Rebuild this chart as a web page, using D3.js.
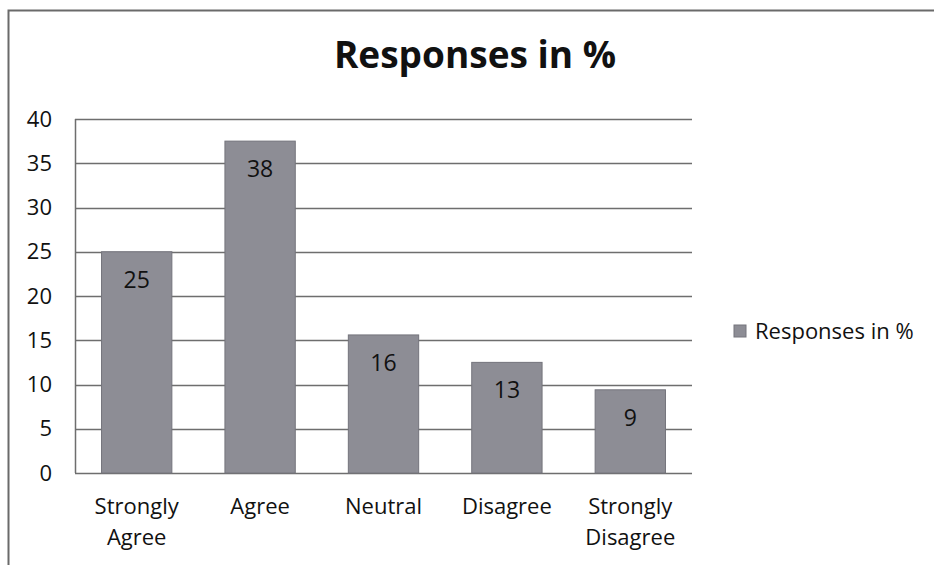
<!DOCTYPE html>
<html>
<head>
<meta charset="utf-8">
<script src="https://cdn.jsdelivr.net/npm/d3@7"></script>
<style>
  html, body { margin: 0; padding: 0; background: #ffffff; }
  svg { display: block; }
  text { font-family: "Open Sans", "Noto Sans", sans-serif; fill: #111; }
</style>
</head>
<body>
<svg id="chart" width="934" height="565"></svg>
<script>
const categories = [["Strongly", "Agree"], ["Agree"], ["Neutral"], ["Disagree"], ["Strongly", "Disagree"]];
const values = [25, 37.5, 15.6, 12.5, 9.4];
const labels = ["25", "38", "16", "13", "9"];
const yTicks = [0, 5, 10, 15, 20, 25, 30, 35, 40];
const title = "Responses in %";
const seriesName = "Responses in %";

const svg = d3.select("#chart");
const W = 934, H = 565;
const plot = { left: 75, right: 692, top: 119, bottom: 473 };
const barColor = "#8d8d95";
const barStroke = "#74747c";
const gridColor = "#6e6e6e";

svg.append("rect").attr("width", W).attr("height", H).attr("fill", "#fff");

// outer border (right & bottom cut off)
svg.append("path")
  .attr("d", `M8.5,${H + 5} L8.5,10.5 L${W + 5},10.5`)
  .attr("fill", "none").attr("stroke", "#6a6a6a").attr("stroke-width", 2);

const keys = categories.map((c, i) => i);
const x = d3.scaleBand().domain(keys).range([plot.left, plot.right])
  .paddingInner(0.43).paddingOuter(0.215);
const y = d3.scaleLinear().domain([0, 40]).range([plot.bottom, plot.top]);

// gridlines
svg.append("g").selectAll("line").data(yTicks).join("line")
  .attr("x1", plot.left).attr("x2", plot.right)
  .attr("y1", d => Math.round(y(d)) + 0.5).attr("y2", d => Math.round(y(d)) + 0.5)
  .attr("stroke", gridColor).attr("stroke-width", 1.5);

// left axis line
svg.append("line")
  .attr("x1", plot.left + 0.5).attr("x2", plot.left + 0.5)
  .attr("y1", plot.top).attr("y2", plot.bottom)
  .attr("stroke", gridColor).attr("stroke-width", 1.5);

// y axis labels
const yAxis = d3.axisLeft(y).tickValues(yTicks).tickSize(0).tickPadding(23);
const gy = svg.append("g").attr("transform", `translate(${plot.left},0)`).call(yAxis);
gy.select(".domain").remove();
gy.selectAll("text").style("font-size", "22px").attr("fill", "#111");

// bars
svg.append("g").selectAll("rect").data(values).join("rect")
  .attr("x", (d, i) => x(i))
  .attr("y", d => y(d))
  .attr("width", x.bandwidth())
  .attr("height", d => y(0) - y(d))
  .attr("fill", barColor)
  .attr("stroke", barStroke).attr("stroke-width", 1);

// data labels
svg.append("g").selectAll("text").data(values).join("text")
  .attr("x", (d, i) => x(i) + x.bandwidth() / 2)
  .attr("y", d => y(d) + 28)
  .attr("dy", "0.35em")
  .attr("text-anchor", "middle")
  .style("font-size", "23px")
  .text((d, i) => labels[i]);

// category labels
const cat = svg.append("g").selectAll("text").data(categories).join("text")
  .attr("text-anchor", "middle")
  .style("font-size", "22px");
cat.each(function(lines, i) {
  const t = d3.select(this);
  lines.forEach((ln, j) => {
    t.append("tspan")
      .attr("x", x(i) + x.bandwidth() / 2)
      .attr("y", 514 + j * 31)
      .text(ln);
  });
});

// title
svg.append("text")
  .attr("x", 475).attr("y", 68)
  .attr("text-anchor", "middle")
  .style("font-size", "37px").style("font-weight", "bold")
  .text(title);

// legend
svg.append("rect").attr("x", 734).attr("y", 325).attr("width", 12).attr("height", 12)
  .attr("fill", barColor).attr("stroke", barStroke);
svg.append("text").attr("x", 755).attr("y", 339)
  .style("font-size", "22px")
  .text(seriesName);
</script>
</body>
</html>
